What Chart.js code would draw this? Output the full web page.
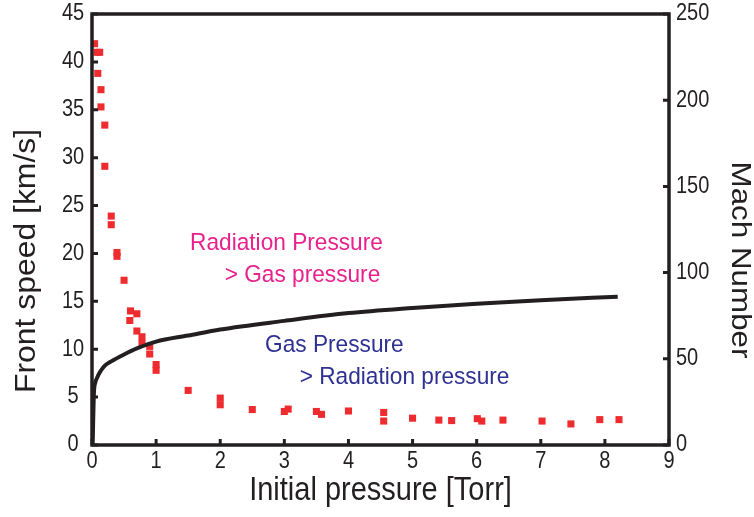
<!DOCTYPE html>
<html>
<head>
<meta charset="utf-8">
<script src="https://cdn.jsdelivr.net/npm/chart.js@4"></script>
<style>
  html, body { margin: 0; padding: 0; background: #fff; }
</style>
</head>
<body>
<canvas id="chart" width="754" height="517"></canvas>
<script>
// measured front speed vs initial pressure
const pressure = [0.04, 0.08, 0.12, 0.09, 0.14, 0.14, 0.2, 0.2, 0.3, 0.3, 0.39, 0.39, 0.5, 0.6, 0.7, 0.59, 0.7, 0.78, 0.78, 0.9, 0.9, 1.0, 1.0, 1.5, 2.0, 2.0, 2.5, 3.0, 3.06, 3.5, 3.58, 4.0, 4.55, 4.55, 5.0, 5.41, 5.61, 6.01, 6.08, 6.41, 7.02, 7.47, 7.92, 8.22];
const speed = [41.9, 41.0, 41.0, 38.8, 37.1, 35.3, 33.4, 29.1, 23.9, 23.0, 20.1, 19.7, 17.2, 14.0, 13.7, 13.0, 11.9, 11.3, 10.6, 10.3, 9.5, 8.4, 7.8, 5.7, 4.9, 4.2, 3.7, 3.5, 3.75, 3.5, 3.2, 3.55, 3.4, 2.5, 2.8, 2.6, 2.55, 2.75, 2.5, 2.6, 2.5, 2.2, 2.65, 2.65];

// Mach number curve (right axis)
const machPressure = [0.01, 0.03, 0.05, 0.08, 0.12, 0.2, 0.3, 0.5, 0.7, 1.0, 1.5, 2.0, 3.0, 4.0, 5.0, 6.0, 7.0, 8.2];
const mach = [0, 30, 36, 39, 42, 46, 48.5, 52.5, 56, 60, 63.5, 67, 72, 76.5, 79.5, 82, 84, 86];

const xTicks = [0, 1, 2, 3, 4, 5, 6, 7, 8, 9];

const notes = [
  { text: "Radiation Pressure", x: 1.53, y: 21.1, color: "#e8218c" },
  { text: "> Gas pressure", x: 2.07, y: 17.7, color: "#e8218c" },
  { text: "Gas Pressure", x: 2.70, y: 10.4, color: "#2e3192" },
  { text: "> Radiation pressure", x: 3.24, y: 7.1, color: "#2e3192" }
];

const titles = { x: "Initial pressure [Torr]", y: "Front speed [km/s]", y2: "Mach Number" };

const FONT = "'Liberation Sans', Arial, sans-serif";
const INK = "#231f20";

// text in the reference looks a bit stretched vertically
function stretchText(ctx, text, x, y, rot, sx, sy) {
  ctx.save();
  ctx.translate(x, y);
  ctx.rotate(rot);
  ctx.scale(sx, sy);
  ctx.fillText(text, 0, 0);
  ctx.restore();
}

const framePlugin = {
  id: "frame",
  afterDatasetsDraw(chart) {
    const { ctx, chartArea: a, scales } = chart;
    ctx.save();
    ctx.strokeStyle = INK;
    ctx.fillStyle = INK;
    // inward ticks
    ctx.lineWidth = 3;
    ctx.beginPath();
    scales.x.ticks.forEach(t => {
      const px = scales.x.getPixelForValue(t.value);
      ctx.moveTo(px, a.bottom);
      ctx.lineTo(px, a.bottom - 6);
    });
    scales.y.ticks.forEach(t => {
      const py = scales.y.getPixelForValue(t.value);
      ctx.moveTo(a.left, py);
      ctx.lineTo(a.left + 6, py);
    });
    scales.y2.ticks.forEach(t => {
      const py = scales.y2.getPixelForValue(t.value);
      ctx.moveTo(a.right, py);
      ctx.lineTo(a.right - 6, py);
    });
    ctx.stroke();
    // box
    ctx.lineWidth = 3.5;
    ctx.strokeRect(a.left, a.top, a.right - a.left, a.bottom - a.top);

    ctx.textBaseline = "middle";
    // tick labels
    ctx.font = "20px " + FONT;
    ctx.textAlign = "center";
    scales.x.ticks.forEach(t => {
      stretchText(ctx, String(t.value), scales.x.getPixelForValue(t.value), a.bottom + 17, 0, 1, 1.15);
    });
    scales.y.ticks.forEach(t => {
      stretchText(ctx, String(t.value), a.left - 19, scales.y.getPixelForValue(t.value), 0, 1, 1.15);
    });
    ctx.textAlign = "left";
    scales.y2.ticks.forEach(t => {
      stretchText(ctx, String(t.value), a.right + 7, scales.y2.getPixelForValue(t.value), 0, 1, 1.15);
    });

    // axis titles
    ctx.font = "29px " + FONT;
    ctx.textAlign = "center";
    stretchText(ctx, titles.x, (a.left + a.right) / 2, 491, 0, 1, 1.12);
    stretchText(ctx, titles.y, 27, 261, -Math.PI / 2, 1.1, 1);
    ctx.font = "28px " + FONT;
    stretchText(ctx, titles.y2, 740, 260, Math.PI / 2, 1.12, 1);

    // notes
    ctx.font = "22px " + FONT;
    ctx.textAlign = "left";
    notes.forEach(n => {
      ctx.fillStyle = n.color;
      stretchText(ctx, n.text, scales.x.getPixelForValue(n.x), scales.y.getPixelForValue(n.y), 0, 1.03, 1.12);
    });
    ctx.restore();
  }
};

new Chart(document.getElementById("chart"), {
  type: "scatter",
  data: {
    datasets: [{
      label: "Front speed",
      data: pressure.map((p, i) => ({ x: p, y: speed[i] })),
      yAxisID: "y",
      pointStyle: "rect",
      pointRadius: 5,
      pointBorderWidth: 0,
      backgroundColor: "#ee2b2f",
      order: 2
    }, {
      label: "Mach number",
      type: "line",
      data: machPressure.map((p, i) => ({ x: p, y: mach[i] })),
      yAxisID: "y2",
      borderColor: INK,
      borderWidth: 4,
      pointRadius: 0,
      fill: false,
      cubicInterpolationMode: "monotone",
      order: 1
    }]
  },
  options: {
    responsive: false,
    animation: false,
    devicePixelRatio: 1,
    layout: { padding: { top: 14, left: 0, right: 0, bottom: 0 } },
    plugins: { legend: { display: false }, tooltip: { enabled: false } },
    scales: {
      x: {
        type: "linear",
        min: 0, max: 9,
        afterBuildTicks: s => { s.ticks = xTicks.map(v => ({ value: v })); },
        afterFit: s => { s.height = 72; },
        grid: { display: false, drawTicks: false },
        border: { display: false },
        ticks: { display: false }
      },
      y: {
        position: "left",
        min: 0, max: 45,
        afterFit: s => { s.width = 92; },
        grid: { display: false, drawTicks: false },
        border: { display: false },
        ticks: { display: false, stepSize: 5 }
      },
      y2: {
        position: "right",
        min: 0, max: 250,
        afterFit: s => { s.width = 85; },
        grid: { display: false, drawTicks: false },
        border: { display: false },
        ticks: { display: false, stepSize: 50 }
      }
    }
  },
  plugins: [framePlugin]
});
</script>
</body>
</html>
